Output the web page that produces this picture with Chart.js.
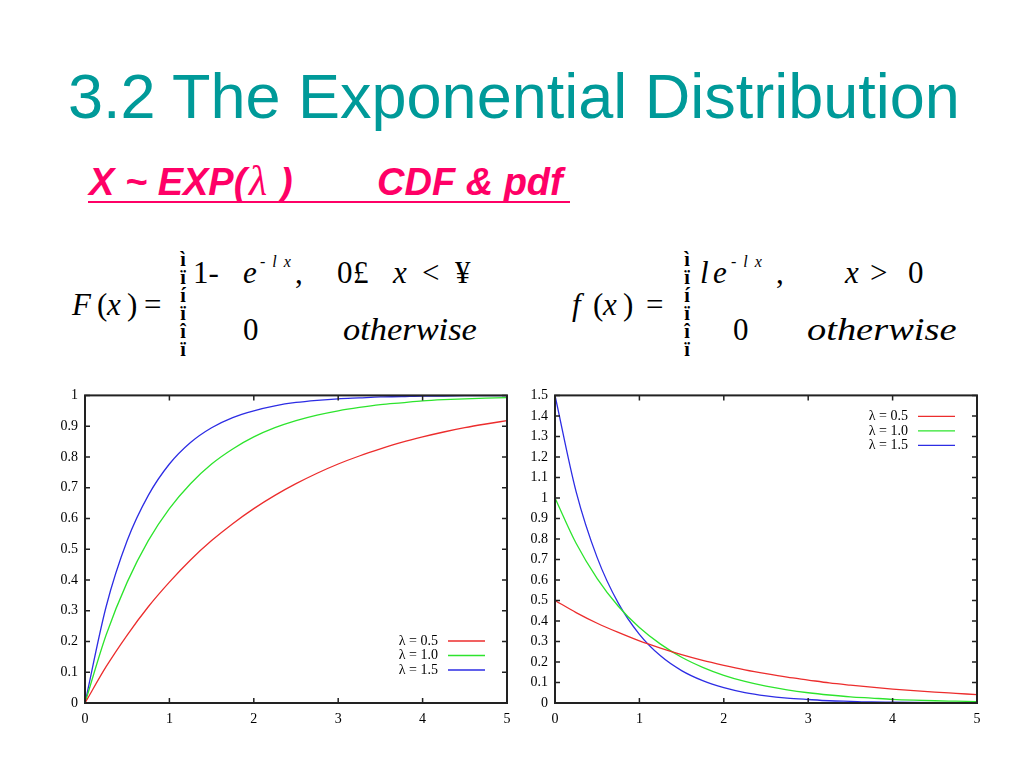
<!DOCTYPE html>
<html>
<head>
<meta charset="utf-8">
<script src="https://cdn.jsdelivr.net/npm/chart.js@4"></script>
<style>
  html, body { margin:0; padding:0; background:#fff; width:1024px; height:768px; overflow:hidden; }
  .abs { position:absolute; white-space:nowrap; }
  .title { left:68px; top:65px; font-family:"Liberation Sans", Arial, sans-serif; font-size:63px; line-height:63px; color:#009a99; }
  .sub { top:163px; font-family:"Liberation Sans", Arial, sans-serif; font-size:38px; line-height:38px; font-weight:bold; font-style:italic; color:#ff0066; }
  .lam { top:160px; left:249px; font-family:"Liberation Serif", serif; font-style:italic; font-size:42px; line-height:42px; color:#ff0066; }
  .uline { left:88px; top:201px; width:482px; height:2px; background:#ff0066; }
  .t { font-family:"Liberation Serif", "Times New Roman", serif; font-size:31px; line-height:31px; color:#000; transform-origin:left top; }
  .i { font-style:italic; }
  .sup { font-family:"Liberation Serif", "Times New Roman", serif; font-size:16px; line-height:16px; font-style:italic; word-spacing:3px; color:#000; }
  .brace { font-family:"Liberation Serif", serif; font-size:20px; line-height:18px; font-weight:bold; text-align:center; width:14px; color:#000; }
  canvas { position:absolute; }
</style>
</head>
<body>
<div class="abs title">3.2 The Exponential Distribution</div>
<div class="abs sub" style="left:89px;">X ~ EXP(</div>
<div class="abs lam">λ</div>
<div class="abs sub" style="left:280px;">)</div>
<div class="abs sub" style="left:377px;">CDF &amp; pdf</div>
<div class="abs uline"></div>

<!-- CDF formula -->
<div class="abs t i" style="left:72px; top:289px;">F</div>
<div class="abs t" style="left:97px; top:289px;">(</div>
<div class="abs t i" style="left:107px; top:289px;">x</div>
<div class="abs t" style="left:127px; top:289px;">)</div>
<div class="abs t" style="left:144px; top:289px;">=</div>
<div class="abs brace" style="left:176px; top:250px;">ì<br>ï<br>í<br>ï<br>î<br>ï</div>
<div class="abs t" style="left:193px; top:257px;">1-</div>
<div class="abs t i" style="left:243px; top:257px;">e</div>
<div class="abs sup" style="left:260px; top:254px;">- l x</div>
<div class="abs t" style="left:295px; top:257px;">,</div>
<div class="abs t" style="left:337px; top:257px;">0</div>
<div class="abs t" style="left:353px; top:257px;">£</div>
<div class="abs t i" style="left:393px; top:257px;">x</div>
<div class="abs t" style="left:422px; top:257px;">&lt;</div>
<div class="abs t" style="left:455px; top:257px;">¥</div>
<div class="abs t" style="left:243px; top:314px;">0</div>
<div class="abs t i" style="left:343px; top:314px; transform:scaleX(1.11);">otherwise</div>

<!-- pdf formula -->
<div class="abs t i" style="left:572px; top:289px;">f</div>
<div class="abs t" style="left:593px; top:289px;">(</div>
<div class="abs t i" style="left:603px; top:289px;">x</div>
<div class="abs t" style="left:623px; top:289px;">)</div>
<div class="abs t" style="left:646px; top:289px;">=</div>
<div class="abs brace" style="left:680px; top:250px;">ì<br>ï<br>í<br>ï<br>î<br>ï</div>
<div class="abs t i" style="left:700px; top:257px;">l</div>
<div class="abs t i" style="left:713px; top:257px;">e</div>
<div class="abs sup" style="left:731px; top:254px;">- l x</div>
<div class="abs t" style="left:776px; top:257px;">,</div>
<div class="abs t i" style="left:845px; top:257px;">x</div>
<div class="abs t" style="left:870px; top:257px;">&gt;</div>
<div class="abs t" style="left:908px; top:257px;">0</div>
<div class="abs t" style="left:733px; top:314px;">0</div>
<div class="abs t i" style="left:807px; top:314px; transform:scaleX(1.24);">otherwise</div>

<canvas id="cdf" width="480" height="360" style="left:40px; top:380px; width:480px; height:360px;"></canvas>
<canvas id="pdf" width="480" height="360" style="left:510px; top:380px; width:480px; height:360px;"></canvas>

<script>
// ---- data ----
const xValues = [0, 0.25, 0.5, 0.75, 1, 1.25, 1.5, 1.75, 2, 2.25, 2.5, 2.75, 3, 3.25, 3.5, 3.75, 4, 4.25, 4.5, 4.75, 5];
const seriesLabels = ['λ = 0.5', 'λ = 1.0', 'λ = 1.5'];
const cdfLam05 = [0, 0.118, 0.221, 0.313, 0.393, 0.465, 0.528, 0.583, 0.632, 0.675, 0.713, 0.747, 0.777, 0.803, 0.826, 0.847, 0.865, 0.881, 0.895, 0.907, 0.918];
const cdfLam10 = [0, 0.221, 0.393, 0.528, 0.632, 0.713, 0.777, 0.826, 0.865, 0.895, 0.918, 0.936, 0.950, 0.961, 0.970, 0.976, 0.982, 0.986, 0.989, 0.991, 0.993];
const cdfLam15 = [0, 0.313, 0.528, 0.675, 0.777, 0.847, 0.895, 0.928, 0.950, 0.966, 0.977, 0.984, 0.989, 0.992, 0.995, 0.996, 0.998, 0.998, 0.999, 0.999, 0.999];
const pdfLam05 = [0.500, 0.441, 0.389, 0.344, 0.303, 0.268, 0.236, 0.208, 0.184, 0.162, 0.143, 0.126, 0.112, 0.098, 0.087, 0.077, 0.068, 0.060, 0.053, 0.047, 0.041];
const pdfLam10 = [1.000, 0.779, 0.607, 0.472, 0.368, 0.287, 0.223, 0.174, 0.135, 0.105, 0.082, 0.064, 0.050, 0.039, 0.030, 0.024, 0.018, 0.014, 0.011, 0.009, 0.007];
const pdfLam15 = [1.500, 1.031, 0.709, 0.487, 0.335, 0.230, 0.158, 0.109, 0.075, 0.051, 0.035, 0.024, 0.017, 0.011, 0.008, 0.005, 0.004, 0.003, 0.002, 0.001, 0.001];
const xTicks = [0, 1, 2, 3, 4, 5];
const cdfMax = 1, pdfMax = 1.5, yStep = 0.1;

// ---- styling ----
const colors = ['rgb(236,45,45)', 'rgb(45,228,45)', 'rgb(45,45,228)'];
const tickFont = { family: '"Liberation Serif", "Times New Roman", serif', size: 14 };

function toPoints(ys) { return ys.map((y, i) => ({ x: xValues[i], y })); }
function fmt(v) { return String(Math.round(v * 10) / 10); }

const framePlugin = {
  id: 'frame',
  afterDatasetsDraw(chart, args, opts) {
    const { ctx, chartArea: a, scales } = chart;
    ctx.save();
    ctx.strokeStyle = '#222';
    ctx.lineWidth = 1.5;
    const t = 5;
    ctx.beginPath();
    scales.x.ticks.forEach(tk => {
      const px = scales.x.getPixelForValue(tk.value);
      ctx.moveTo(px, a.bottom); ctx.lineTo(px, a.bottom - t);
      ctx.moveTo(px, a.top); ctx.lineTo(px, a.top + t);
    });
    scales.y.ticks.forEach(tk => {
      const py = scales.y.getPixelForValue(tk.value);
      ctx.moveTo(a.left, py); ctx.lineTo(a.left + t, py);
      ctx.moveTo(a.right, py); ctx.lineTo(a.right - t, py);
    });
    ctx.stroke();
    ctx.lineWidth = 2;
    ctx.strokeRect(a.left, a.top, a.right - a.left, a.bottom - a.top);
    // legend inside plot
    ctx.font = '14px "Liberation Serif", "Times New Roman", serif';
    ctx.textAlign = 'right';
    ctx.textBaseline = 'middle';
    chart.data.datasets.forEach((ds, i) => {
      const y = (opts.fromTop ? a.top + opts.offset : a.bottom - opts.offset) + i * 14.5;
      ctx.fillStyle = '#000';
      ctx.fillText(ds.label, a.right - 69, y);
      ctx.strokeStyle = ds.borderColor;
      ctx.lineWidth = 1.3;
      ctx.beginPath();
      ctx.moveTo(a.right - 59, y); ctx.lineTo(a.right - 22, y);
      ctx.stroke();
    });
    ctx.restore();
  }
};

function makeChart(id, seriesList, yMax, legendOpts) {
  return new Chart(document.getElementById(id), {
    type: 'line',
    data: {
      datasets: seriesList.map((ys, i) => ({
        label: seriesLabels[i],
        data: toPoints(ys),
        borderColor: colors[i],
        borderWidth: 1.3,
        pointRadius: 0,
        fill: false,
        cubicInterpolationMode: 'monotone'
      }))
    },
    options: {
      responsive: false,
      animation: false,
      devicePixelRatio: 1,
      layout: { padding: { left: 0, top: 10, right: 13, bottom: 15 } },
      plugins: { legend: { display: false }, tooltip: { enabled: false }, frame: legendOpts },
      scales: {
        x: {
          type: 'linear', min: 0, max: 5,
          afterBuildTicks: s => { s.ticks = xTicks.map(v => ({ value: v })); },
          ticks: { font: tickFont, color: '#000', padding: 8, maxRotation: 0, callback: v => String(v) },
          grid: { display: false, drawTicks: false }, border: { display: false },
          afterFit: s => { s.height = 22; }
        },
        y: {
          min: 0, max: yMax,
          ticks: { stepSize: yStep, font: tickFont, color: '#000', padding: 7, callback: v => fmt(v) },
          grid: { display: false, drawTicks: false }, border: { display: false },
          afterFit: s => { s.width = 45; }
        }
      }
    },
    plugins: [framePlugin]
  });
}

makeChart('cdf', [cdfLam05, cdfLam10, cdfLam15], cdfMax, { fromTop: false, offset: 62 });
makeChart('pdf', [pdfLam05, pdfLam10, pdfLam15], pdfMax, { fromTop: true, offset: 21 });
</script>
</body>
</html>
